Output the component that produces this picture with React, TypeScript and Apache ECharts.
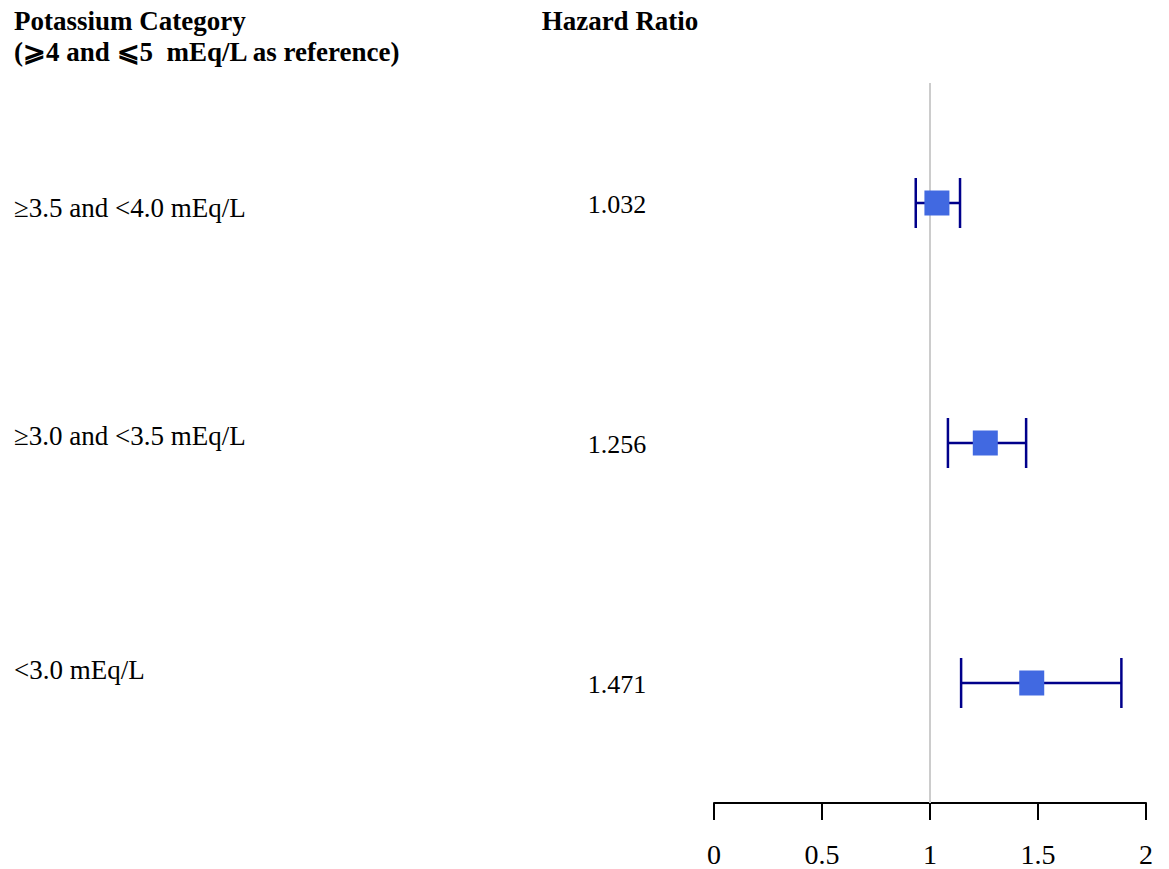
import React, { useEffect, useRef } from "react";
import * as echarts from "echarts";

const rowLabels = ["≥3.5 and <4.0 mEq/L", "≥3.0 and <3.5 mEq/L", "<3.0 mEq/L"];
const rowPos = [3, 2, 1];
const hazardRatios = [1.032, 1.256, 1.471];
const ciLow = [0.934, 1.083, 1.144];
const ciHigh = [1.139, 1.445, 1.886];
const xTicks = [0, 0.5, 1, 1.5, 2];
const labelOffsets = [5, -7, -13];

const FONT = '"Liberation Serif", "Times New Roman", serif';

export default function App() {
  const ref = useRef<HTMLDivElement>(null);
  useEffect(() => {
    if (!ref.current) return;
    const chart = echarts.init(ref.current, undefined, { renderer: "svg" });
    const option: any = {
      animation: false,
      backgroundColor: "#ffffff",
      textStyle: { fontFamily: FONT },
      grid: { left: 714, right: 23, top: 83, bottom: 66, containLabel: false },
      xAxis: {
        type: "value",
        min: xTicks[0],
        max: xTicks[xTicks.length - 1],
        interval: 0.5,
        axisLine: { show: true, onZero: false, lineStyle: { color: "#000", width: 2 } },
        axisTick: { show: true, inside: false, length: 17, lineStyle: { color: "#000", width: 2 } },
        axisLabel: { margin: 37, color: "#000", fontSize: 28, fontFamily: FONT },
        splitLine: { show: false },
      },
      yAxis: {
        type: "value",
        min: 0.5,
        max: 3.5,
        show: false,
        splitLine: { show: false },
      },
      graphic: [
        {
          type: "text",
          left: 14,
          top: 5,
          style: {
            text: "Potassium Category\n(⩾4 and ⩽5  mEq/L as reference)",
            font: `bold 27px ${FONT}`,
            fill: "#000",
            lineHeight: 31,
          },
        },
        {
          type: "text",
          x: 620,
          y: 21,
          style: {
            text: "Hazard Ratio",
            font: `bold 27px ${FONT}`,
            fill: "#000",
            align: "center",
            verticalAlign: "middle",
          },
        },
      ],
      series: [
        {
          type: "custom",
          name: "table",
          silent: true,
          data: rowPos.map((r, i) => [1, r, i]),
          encode: { x: 0, y: 1 },
          renderItem: (params: any, api: any) => {
            const idx = api.value(2);
            const y = api.coord([1, api.value(1)])[1];
            return {
              type: "group",
              children: [
                {
                  type: "text",
                  x: 14,
                  y: y + labelOffsets[idx],
                  style: {
                    text: rowLabels[idx],
                    font: `27px ${FONT}`,
                    fill: "#000",
                    align: "left",
                    verticalAlign: "middle",
                  },
                },
                {
                  type: "text",
                  x: 617,
                  y: y + 1,
                  style: {
                    text: hazardRatios[idx].toFixed(3),
                    font: `26px ${FONT}`,
                    fill: "#000",
                    align: "center",
                    verticalAlign: "middle",
                  },
                },
              ],
            };
          },
          z: 1,
        },
        {
          type: "custom",
          name: "ci",
          silent: true,
          data: rowPos.map((r, i) => [ciLow[i], ciHigh[i], r]),
          encode: { x: [0, 1], y: 2 },
          renderItem: (params: any, api: any) => {
            const lo = api.coord([api.value(0), api.value(2)]);
            const hi = api.coord([api.value(1), api.value(2)]);
            const h = 25;
            const style = { stroke: "#00008B", lineWidth: 2.5 };
            return {
              type: "group",
              children: [
                { type: "line", shape: { x1: lo[0], y1: lo[1], x2: hi[0], y2: hi[1] }, style },
                { type: "line", shape: { x1: lo[0], y1: lo[1] - h, x2: lo[0], y2: lo[1] + h }, style },
                { type: "line", shape: { x1: hi[0], y1: hi[1] - h, x2: hi[0], y2: hi[1] + h }, style },
              ],
            };
          },
          z: 3,
        },
        {
          type: "scatter",
          name: "hr",
          symbol: "rect",
          symbolSize: 25,
          silent: true,
          data: rowPos.map((r, i) => [hazardRatios[i], r]),
          itemStyle: { color: "#4169E1", opacity: 1 },
          z: 4,
          markLine: {
            silent: true,
            symbol: "none",
            label: { show: false },
            lineStyle: { color: "#cccccc", width: 2, type: "solid" },
            data: [{ xAxis: 1 }],
            z: 2,
          },
        },
      ],
    };
    chart.setOption(option);
    return () => chart.dispose();
  }, []);
  return (
    <div
      ref={ref}
      style={{ position: "absolute", left: 0, top: 0, width: 1169, height: 869 }}
    />
  );
}
